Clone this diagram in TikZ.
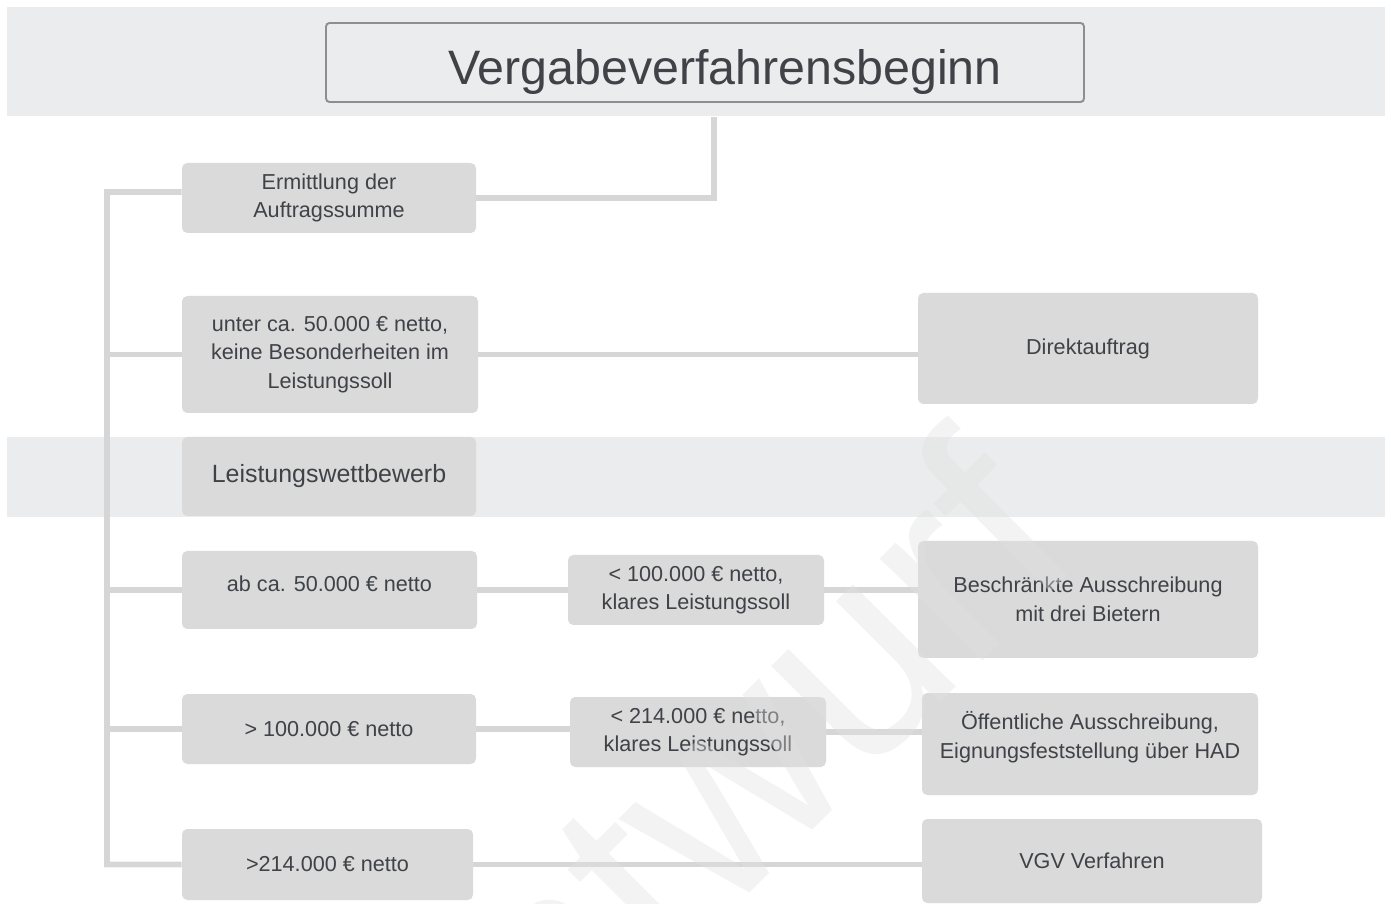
\documentclass[tikz,border=0pt]{standalone}
\usepackage{fontspec}
\setmainfont{Liberation Sans}
\usepackage{xcolor}
\usepackage{tikz}

\definecolor{boxgray}{HTML}{DADADA}
\definecolor{bandgray}{HTML}{EBECED}
\definecolor{linegray}{HTML}{D6D6D6}
\definecolor{textgray}{HTML}{3F4246}
\definecolor{framegray}{HTML}{8E8E8E}

\begin{document}
\begin{tikzpicture}[box/.style={rectangle, rounded corners=3pt, fill=boxgray, text=textgray, align=center, inner sep=0pt, font=\fontsize{12.3}{16.2}\selectfont}, link/.style={draw=linegray, line width=3.4pt}, band/.style={fill=bandgray}]
\useasboundingbox (0,0) rectangle (27.82,-18.08);
\fill[band] (0.14,-0.14) rectangle (27.70,-2.32);
\fill[band] (0.14,-8.74) rectangle (27.70,-10.34);
\node (start) [box, fill=bandgray, draw=framegray, line width=1.1pt, rounded corners=2pt, minimum width=15.16cm, minimum height=1.58cm, font=\fontsize{27.5}{30}\selectfont] at (14.10,-1.25) {\hspace*{0.8cm}\raisebox{-0.19cm}[\height][\depth]{Vergabeverfahrensbeginn}};
\node (summe) [box, minimum width=5.88cm, minimum height=1.40cm] at (6.58,-3.96) {Ermittlung der\\Auftragssumme};
\node (unter) [box, minimum width=5.92cm, minimum height=2.34cm] at (6.60,-7.09) {unter ca. 50.000 € netto,\\keine Besonderheiten im\\Leistungssoll};
\node (direkt) [box, minimum width=6.80cm, minimum height=2.22cm] at (21.76,-6.97) {Direktauftrag};
\node (wettb) [box, minimum width=5.88cm, minimum height=1.58cm, font=\fontsize{14.2}{17}\selectfont] at (6.58,-9.53) {Leistungswettbewerb};
\node (ab50) [box, minimum width=5.90cm, minimum height=1.56cm] at (6.59,-11.80) {ab ca. 50.000 € netto\\[-0.3cm]\mbox{}};
\node (lt100) [box, minimum width=5.12cm, minimum height=1.40cm] at (13.92,-11.80) {< 100.000 € netto,\\klares Leistungssoll};
\node (beschr) [box, minimum width=6.80cm, minimum height=2.34cm] at (21.76,-11.99) {Beschränkte Ausschreibung\\mit drei Bietern};
\node (gt100) [box, minimum width=5.88cm, minimum height=1.40cm] at (6.58,-14.58) {> 100.000 € netto};
\node (lt214) [box, minimum width=5.12cm, minimum height=1.40cm] at (13.96,-14.64) {< 214.000 € netto,\\klares Leistungssoll};
\node (oeff) [box, minimum width=6.72cm, minimum height=2.04cm] at (21.80,-14.88) {Öffentliche Ausschreibung,\\Eignungsfeststellung über HAD\\[-0.2cm]\mbox{}};
\node (gt214) [box, minimum width=5.82cm, minimum height=1.42cm] at (6.55,-17.29) {>214.000 € netto};
\node (vgv) [box, minimum width=6.80cm, minimum height=1.68cm] at (21.84,-17.22) {VGV Verfahren};
\coordinate (drop) at (14.28,-2.34);
\coordinate (trunk) at (2.14,-3.84);
% Verbindungen
\draw[link] (drop) |- (summe.east);
\draw[link] ([yshift=0.12cm]summe.west) -- (trunk) |- (gt214.west);
\draw[link] (unter.west) -- (unter.west -| trunk);
\draw[link] (ab50.west) -- (ab50.west -| trunk);
\draw[link] (gt100.west) -- (gt100.west -| trunk);
\draw[link] (unter.east) -- (unter.east -| direkt.west);
\draw[link] (ab50.east) -- (lt100.west);
\draw[link] (lt100.east) -- (lt100.east -| beschr.west);
\draw[link] (gt100.east) -- (gt100.east -| lt214.west);
\draw[link] (lt214.east) -- (lt214.east -| oeff.west);
\draw[link] (gt214.east) -- (gt214.east -| vgv.west);
% Wasserzeichen
\node (mark) [rotate=45, text=white!88!black, text opacity=0.4, font=\fontsize{156}{160}\selectfont, inner sep=0pt] at (13.8,-16.3) {Entwurf};
\end{tikzpicture}
\end{document}
